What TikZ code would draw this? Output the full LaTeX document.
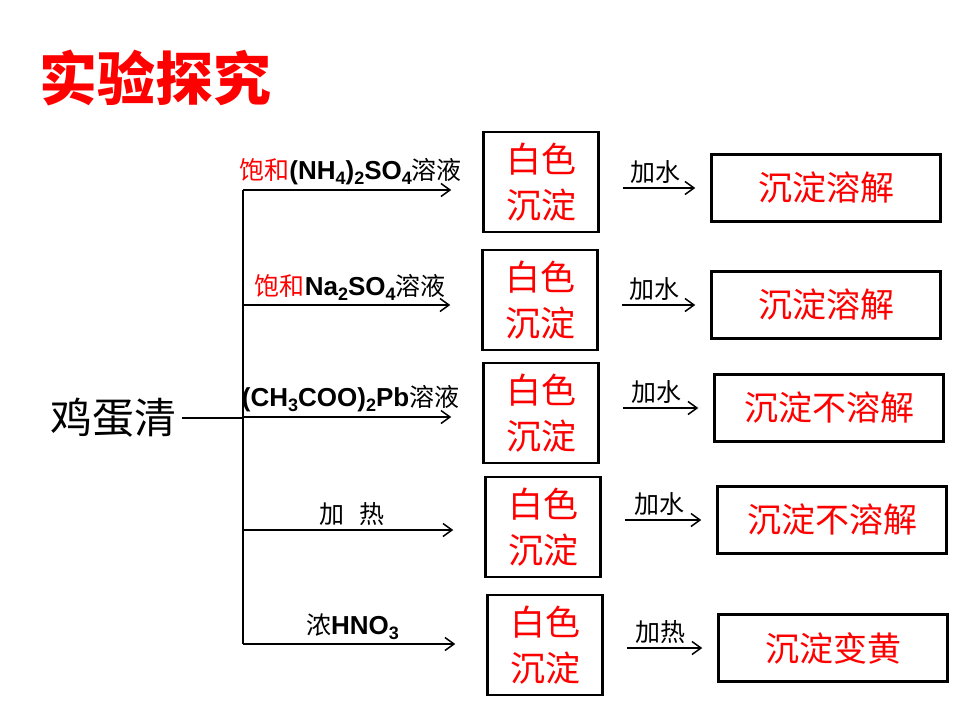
\documentclass[tikz,border=0pt]{standalone}
\usepackage{fontspec}
\setmainfont{Noto Sans CJK SC}
\newfontfamily\arial{Liberation Sans}
\usetikzlibrary{arrows.meta}
\newcommand{\fs}[1]{\fontsize{#1}{#1}\selectfont}
\newcommand{\chem}[1]{{\arial\bfseries\fs{26}#1}}
\newcommand{\sbs}[1]{\raisebox{-0.35ex}{\fontsize{18}{18}\selectfont #1}}

\begin{document}
\begin{tikzpicture}[x=1pt, y=-1pt, >={Straight Barb[length=9pt,width=13pt]},
  precip/.style = {draw, line width=2.5pt, minimum width=115pt,
    minimum height=100pt, align=center, text=red,
    font=\fontsize{35}{46}\selectfont},
  result/.style = {draw, line width=2.5pt, minimum width=229pt,
    minimum height=67pt, text=red, font=\fs{34}},
  reagent/.style = {font=\fs{25}, inner sep=4pt},
  action/.style = {font=\fs{25}, inner sep=4pt}]
  \useasboundingbox (0,0) rectangle (960,720);
  \node[anchor=west, text=red, font=\fs{58}\bfseries] (title) at (36,78) {实验探究};
  \node[font=\fs{42}, inner sep=6pt] (egg) at (113,418) {鸡蛋清};
  \foreach \i/\ay/\wx/\wy/\rx/\ry/\res/\act/\reag in {
    1/190/541/182/826/188/沉淀溶解/加水/{{\color{red}饱和}\chem{(NH\sbs{4})\sbs{2}SO\sbs{4}}溶液},
    2/305/540/300/826/305/沉淀溶解/加水/{{\color{red}饱和}\chem{Na\sbs{2}SO\sbs{4}}溶液},
    3/417/541/413/829/408/沉淀不溶解/加水/{\chem{(CH\sbs{3}COO)\sbs{2}Pb}溶液},
    4/530/543/527/832/520/沉淀不溶解/加水/{加\hspace{0.6em}热},
    5/644/545/645/833/648/沉淀变黄/加热/{浓\chem{HNO\sbs{3}}}}
  {
    \coordinate (s\i) at (243,\ay);
    \node[precip] (w\i) at (\wx,\wy) {白色\\沉淀};
    \node[result] (r\i) at (\rx,\ry) {\res};
    \draw[->, line width=1.5pt, shorten >=31pt] (s\i) -- (w\i.west |- s\i)
      node[pos=0.45, above, reagent] (g\i) {\reag};
    \draw[->, line width=1.5pt, shorten <=23pt, shorten >=15pt] (w\i.east |- r\i) -- (r\i.west)
      node[midway, above, action] (a\i) {\act};
  }
  \draw[line width=1.5pt] (s1) -- (s5);
  \draw[line width=1.5pt] (egg.east) -- (egg.east -| s3);
\end{tikzpicture}
\end{document}
